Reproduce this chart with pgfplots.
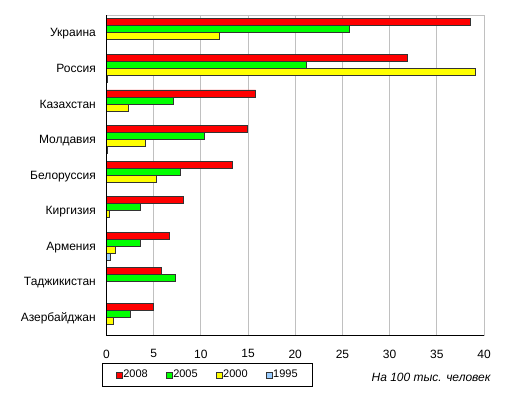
\documentclass[border=0pt]{standalone}
\usepackage{fontspec}
\setmainfont{Liberation Sans}
\usepackage{pgfplots}
\pgfplotsset{compat=1.18}
\definecolor{c08}{RGB}{255,0,0}
\definecolor{c05}{RGB}{0,255,0}
\definecolor{c00}{RGB}{255,255,0}
\definecolor{c95}{RGB}{153,204,255}
\definecolor{gridgray}{RGB}{192,192,192}
\pgfplotsset{mylegend/.style={legend image code/.code={\draw[##1,line width=0.5pt,draw=black!80] (0pt,-3pt) rectangle (6pt,3pt);}}}
\begin{document}
\begin{tikzpicture}
\useasboundingbox (-106.5pt,-58pt) rectangle (406.5pt,335pt);
\begin{axis}[
  at={(0pt,0pt)}, anchor=south west,
  scale only axis, width=377.5pt, height=320pt,
  xbar=0pt, bar width=7pt,
  xmin=0, xmax=40, ymin=-0.5, ymax=8.5,
  xtick={0,5,...,40},
  ytick={0,...,8},
  yticklabels={Азербайджан,Таджикистан,Армения,Киргизия,Белоруссия,Молдавия,Казахстан,Россия,Украина},
  major tick length=0pt,
  xmajorgrids, ymajorgrids=false,
  grid style={gridgray, line width=0.8pt},
  axis line style={gridgray, line width=0.8pt},
  /pgf/number format/assume math mode=true,
  tick label style={font=\fontsize{12}{14}\selectfont},
  yticklabel style={anchor=base east, inner sep=0pt, xshift=-10.5pt, yshift=-4.2pt},
  xticklabel style={anchor=north, inner sep=0pt, yshift=-14.5pt},
  legend columns=4, reverse legend,
  legend style={at={(-0.0106,-0.0875)}, anchor=north west, draw=black, line width=0.6pt,
    font=\fontsize{11}{13}\selectfont, inner xsep=13pt, inner ysep=5pt,
    /tikz/every even column/.append style={column sep=16pt},
    /tikz/every odd column/.append style={column sep=-1pt}},
  every axis plot/.append style={draw=black!80, line width=0.6pt},
  clip=false,
]
\addplot[fill=c95, mylegend] coordinates {(0.12,7) (0.12,5) (0.4,2)};
\addplot[fill=c00, mylegend] coordinates {(12.0,8) (39.1,7) (2.3,6) (4.1,5) (5.3,4) (0.25,3) (0.93,2) (0.7,0)};
\addplot[fill=c05, mylegend] coordinates {(25.7,8) (21.2,7) (7.1,6) (10.4,5) (7.8,4) (3.6,3) (3.6,2) (7.3,1) (2.5,0)};
\addplot[fill=c08, mylegend] coordinates {(38.5,8) (31.9,7) (15.8,6) (14.9,5) (13.3,4) (8.15,3) (6.7,2) (5.8,1) (5.0,0)};
\legend{1995,2000,2005,2008}
\draw[black, line width=0.8pt] (rel axis cs:0,0) -- (rel axis cs:0,1);
\draw[black, line width=0.8pt] (rel axis cs:0,0) -- (rel axis cs:1,0);
\node[anchor=west, font=\itshape\fontsize{12}{14}\selectfont] at (axis description cs:0.693,-0.131) {На 100 тыс. человек};
\end{axis}
\end{tikzpicture}
\end{document}
